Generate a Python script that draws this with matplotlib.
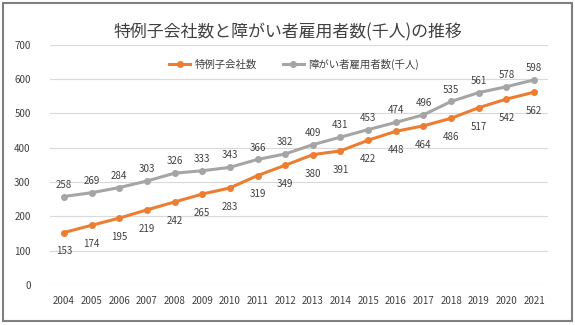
import matplotlib
matplotlib.use("Agg")
import matplotlib.pyplot as plt
from matplotlib.patches import Rectangle

plt.rcParams['font.family'] = ['Noto Sans CJK JP', 'DejaVu Sans']

years = [str(y) for y in range(2004, 2022)]
subsidiaries = [153, 174, 195, 219, 242, 265, 283, 319, 349, 380, 391, 422, 448, 464, 486, 517, 542, 562]
employees = [258, 269, 284, 303, 326, 333, 343, 366, 382, 409, 431, 453, 474, 496, 535, 561, 578, 598]

title = "特例子会社数と障がい者雇用者数(千人)の推移"
label_sub = "特例子会社数"
label_emp = "障がい者雇用者数(千人)"

orange = "#ED7D31"
gray = "#A5A5A5"
text_c = "#404040"

fig = plt.figure(figsize=(5.75, 3.25), dpi=100)
fig.patches.append(Rectangle((0.006, 0.012), 0.988, 0.978, transform=fig.transFigure,
                             fill=False, edgecolor="#7F7F7F", linewidth=1.5))
ax = fig.add_axes([0.087, 0.123, 0.866, 0.739])

x = list(range(len(years)))
ax.plot(x, subsidiaries, color=orange, lw=2.2, marker='o', ms=4, label=label_sub, zorder=3)
ax.plot(x, employees, color=gray, lw=2.2, marker='o', ms=4, label=label_emp, zorder=3)

for xi, v in zip(x, subsidiaries):
    ax.annotate(str(v), (xi, v), xytext=(0, -10), textcoords='offset points',
                ha='center', va='top', fontsize=7, color=text_c)
for xi, v in zip(x, employees):
    ax.annotate(str(v), (xi, v), xytext=(0, 5), textcoords='offset points',
                ha='center', va='bottom', fontsize=7, color=text_c)

ax.set_xlim(-0.5, len(years) - 0.5)
ax.set_ylim(0, 700)
ax.set_yticks(range(0, 701, 100))
ax.set_xticks(x)
ax.set_xticklabels(years)
ax.tick_params(axis='both', length=0, labelsize=7, colors=text_c)
ax.tick_params(axis='y', pad=14)
ax.tick_params(axis='x', pad=8)
ax.grid(axis='y', color="#D9D9D9", lw=0.8)
ax.set_axisbelow(True)
for s in ax.spines.values():
    s.set_visible(False)

fig.text(0.5, 0.9, title, ha='center', va='center', fontsize=12.2, color=text_c)
leg = ax.legend(loc='center', bbox_to_anchor=(0.49, 0.92), ncol=2, frameon=False,
                fontsize=7.5, handlelength=2.0, handletextpad=0.4, columnspacing=2.5,
                labelcolor=text_c)

fig.savefig("out.png", dpi=100)
